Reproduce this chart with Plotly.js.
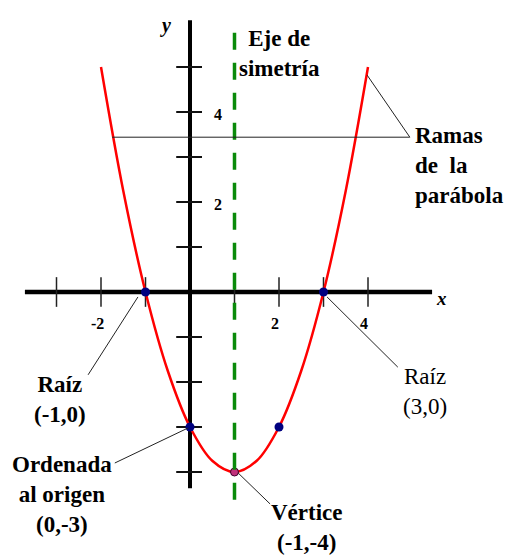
<!DOCTYPE html>
<html>
<head>
<meta charset="utf-8">
<script src="https://cdn.plot.ly/plotly-3.0.1.min.js"></script>
<style>
  html, body { margin: 0; padding: 0; background: #fff; }
  #chart { width: 508px; height: 557px; }
</style>
</head>
<body>
<div id="chart"></div>
<script>
// parabola
var curveX = [-2, -1.5, -1, -0.5, 0, 0.5, 1, 1.5, 2, 2.5, 3, 3.5, 4];
var curveY = [5, 2.25, 0, -1.75, -3, -3.75, -4, -3.75, -3, -1.75, 0, 2.25, 5];

// marked points
var pointX = [-1, 3, 0, 2];
var pointY = [0, 0, -3, -3];
var vertexX = [1];
var vertexY = [-4];

// axis ticks
var xTicks = [-3, -2, -1, 1, 2, 3, 4];
var yTicks = [-4, -3, -2, -1, 1, 2, 3, 4, 5];
var xTickLabels = ['-2', '2', '4'];
var xTickLabelVals = [-2, 2, 4];
var yTickLabels = ['2', '4'];
var yTickLabelVals = [2, 4];

var serif = "'Liberation Serif', 'Times New Roman', serif";

var data = [
    {
        x: curveX,
        y: curveY,
        type: 'scatter',
        mode: 'lines',
        line: { color: '#ff0000', width: 2.5, shape: 'spline', smoothing: 1 },
        hoverinfo: 'skip'
    },
    {
        x: pointX,
        y: pointY,
        type: 'scatter',
        mode: 'markers',
        marker: { color: '#000080', size: 9 },
        hoverinfo: 'skip'
    },
    {
        x: vertexX,
        y: vertexY,
        type: 'scatter',
        mode: 'markers',
        marker: { color: '#c0307a', size: 8, line: { color: '#400030', width: 1 } },
        hoverinfo: 'skip'
    }
];

var shapes = [];

// axes
shapes.push({ type: 'line', xref: 'x', yref: 'y', x0: -3.71, x1: 5.44, y0: 0, y1: 0,
    line: { color: '#000', width: 4.5 }, layer: 'below' });
shapes.push({ type: 'line', xref: 'x', yref: 'y', x0: 0, x1: 0, y0: -4.36, y1: 6.04,
    line: { color: '#000', width: 4 }, layer: 'below' });

// tick marks
xTicks.forEach(function (v) {
    shapes.push({ type: 'line', xref: 'x', yref: 'y', x0: v, x1: v, y0: -0.33, y1: 0.33,
        line: { color: '#222', width: 1.5 }, layer: 'below' });
});
yTicks.forEach(function (v) {
    shapes.push({ type: 'line', xref: 'x', yref: 'y', x0: -0.31, x1: 0.27, y0: v, y1: v,
        line: { color: '#111', width: 2 }, layer: 'below' });
});

// eje de simetria
shapes.push({ type: 'line', xref: 'x', yref: 'y', x0: 1, x1: 1, y0: 5.76, y1: -4.62,
    line: { color: '#0a8a0a', width: 3.5, dash: '17px,13px' }, layer: 'above' });

// leader lines
var leaders = [
    [-1.17, -0.11, -2.29, -1.84],
    [3.08, -0.11, 4.67, -1.67],
    [-1.69, -3.8, -0.04, -3.02],
    [1.08, -4.02, 1.80, -4.71],
    [-1.75, 3.44, 4.94, 3.44],
    [3.98, 4.82, 4.94, 3.44]
];
leaders.forEach(function (l) {
    shapes.push({ type: 'line', xref: 'x', yref: 'y', x0: l[0], y0: l[1], x1: l[2], y1: l[3],
        line: { color: '#222', width: 1 }, layer: 'above' });
});

var annotations = [];
function note(text, x, y, opts) {
    var a = {
        text: text, x: x, y: y, xref: 'x', yref: 'y', showarrow: false,
        xanchor: 'center', yanchor: 'middle', align: 'center',
        font: { family: serif, size: 23, color: '#000', weight: 'bold' }
    };
    for (var k in opts) a[k] = opts[k];
    annotations.push(a);
}

xTickLabels.forEach(function (t, i) {
    note(t, xTickLabelVals[i] - 0.08, -0.7, { font: { family: serif, size: 16, color: '#000', weight: 'bold' } });
});
yTickLabels.forEach(function (t, i) {
    note(t, 0.62, yTickLabelVals[i] - 0.05, { font: { family: serif, size: 16, color: '#000', weight: 'bold' } });
});

note('<i>x</i>', 5.66, -0.15, { font: { family: serif, size: 19, color: '#000', weight: 'bold' } });
note('<i>y</i>', -0.56, 5.92, { font: { family: serif, size: 20, color: '#000', weight: 'bold' } });

note('Eje de<br>simetría', 2.02, 5.31);
note('Ramas<br>de  la<br>parábola', 5.0, 2.82, { xanchor: 'left', align: 'left' });
note('Raíz<br>(-1,0)', -2.92, -2.38);
note('Raíz<br>(3,0)', 5.28, -2.2, { font: { family: serif, size: 23, color: '#000' } });
note('Ordenada<br>al origen<br>(0,-3)', -2.88, -4.49);
note('Vértice<br>(-1,-4)', 2.63, -5.24);

var layout = {
    width: 508,
    height: 557,
    margin: { l: 0, r: 0, t: 0, b: 0, pad: 0 },
    paper_bgcolor: '#fff',
    plot_bgcolor: '#fff',
    showlegend: false,
    xaxis: { range: [-190 / 44.5, 318 / 44.5], visible: false, fixedrange: true },
    yaxis: { range: [-265 / 45, 292 / 45], visible: false, fixedrange: true },
    shapes: shapes,
    annotations: annotations
};

var config = { responsive: false, displayModeBar: false, staticPlot: true };

Plotly.newPlot('chart', data, layout, config);
</script>
</body>
</html>
